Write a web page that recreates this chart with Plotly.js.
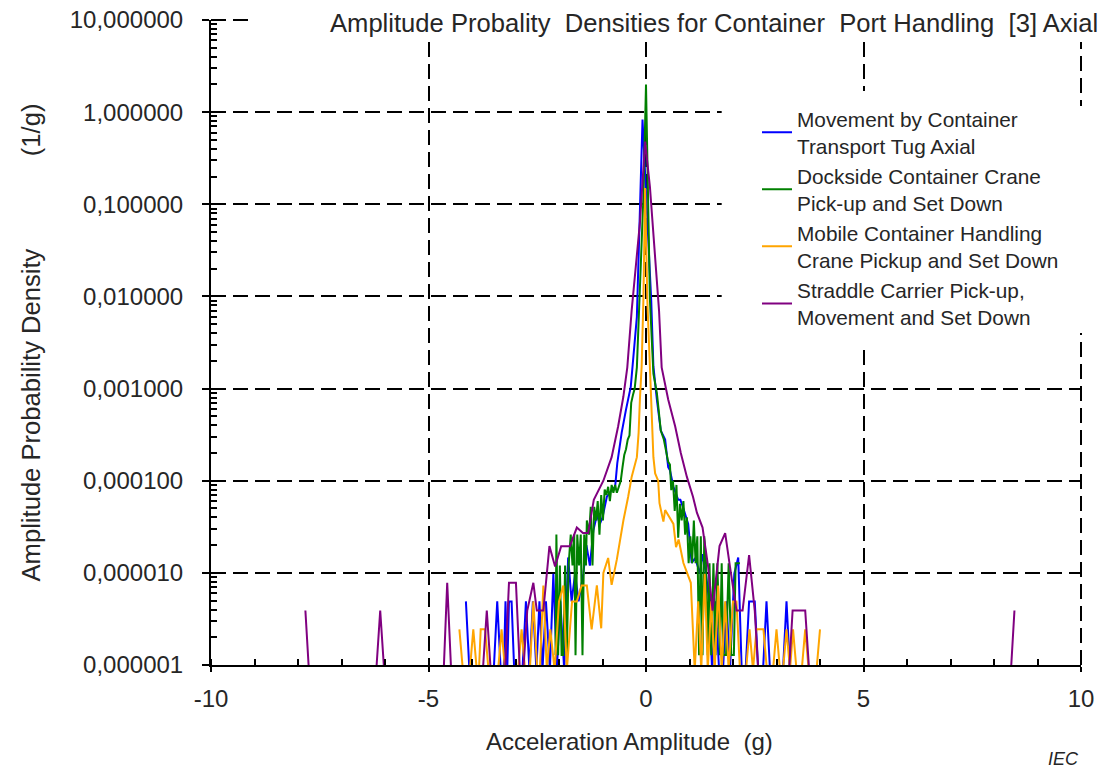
<!DOCTYPE html>
<html><head><meta charset="utf-8">
<script src="https://cdn.plot.ly/plotly-3.0.1.min.js"></script>
<style>html,body{margin:0;padding:0;background:#fff}#chart{width:1113px;height:773px}</style>
</head><body><div id="chart"></div>
<script>
// ---- data (acceleration amplitude in g, density in 1/g; 0 = empty bin) ----
const blueX = [-4.14,-4.06,-3.50,-3.42,-3.34,-3.27,-3.23,-3.19,-3.15,-3.09,-3.03,-2.84,-2.76,-2.68,-2.60,-2.52,-2.45,-2.38,-2.30,-2.21,-2.13,-2.05,-1.97,-1.88,-1.79,-1.71,-1.63,-1.55,-1.44,-1.37,-1.29,-1.21,-1.13,-1.06,-1.00,-0.90,-0.79,-0.71,-0.66,-0.56,-0.46,-0.35,-0.21,-0.08,0.12,0.17,0.25,0.34,0.44,0.51,0.55,0.63,0.74,0.79,0.86,0.97,1.05,1.13,1.24,1.30,1.38,1.45,1.52,1.60,1.68,1.77,1.85,1.93,2.03,2.12,2.20,2.29,2.37,2.45,2.50,2.58,2.69,2.77,2.85,3.15,3.23,3.31];
const blueY = [4.9e-6,0,0,4.9e-6,0,0,4.9e-6,0,4.9e-6,4.9e-6,0,0,4.9e-6,0,4.9e-6,0,4.9e-6,0,4.9e-6,0,9.8e-6,0,4.9e-6,0,1.47e-5,4.9e-6,9.8e-6,4.9e-6,9.8e-6,2.0e-5,1.2e-5,2.9e-5,4.2e-5,3.4e-5,4.0e-5,6.7e-5,7.9e-5,8.6e-5,1.55e-4,3.3e-4,5.9e-4,1.05e-3,6.0e-3,0.83,9.0e-3,1.74e-3,7.6e-4,3.5e-4,2.8e-4,1.4e-4,1.3e-4,8.6e-5,6.2e-5,6.2e-5,5.0e-5,3.4e-5,1.28e-5,1.45e-5,9.8e-6,1.6e-5,9.8e-6,4.9e-6,0,4.9e-6,0,0,4.9e-6,0,9.8e-6,1.47e-5,0,0,4.9e-6,4.9e-6,4.9e-6,0,0,4.9e-6,0,0,4.9e-6,0];

const greenX = [-2.08,-2.06,-2.02,-1.98,-1.94,-1.90,-1.86,-1.82,-1.78,-1.73,-1.69,-1.65,-1.62,-1.58,-1.54,-1.50,-1.46,-1.42,-1.38,-1.36,-1.31,-1.27,-1.23,-1.19,-1.15,-1.11,-1.07,-1.03,-0.99,-0.95,-0.91,-0.87,-0.83,-0.79,-0.75,-0.71,-0.67,-0.62,-0.58,-0.54,-0.50,-0.46,-0.42,-0.38,-0.34,-0.30,-0.26,-0.21,-0.15,-0.06,0.00,0.03,0.06,0.09,0.17,0.25,0.29,0.34,0.41,0.46,0.51,0.55,0.58,0.62,0.66,0.70,0.74,0.78,0.82,0.86,0.90,0.94,0.98,1.02,1.06,1.10,1.14,1.18,1.22,1.26,1.30,1.34,1.38,1.42,1.46,1.50,1.55,1.60,1.64,1.70,1.74,1.78,1.84,1.90,1.96,2.02,2.06,2.10,2.16];
const greenY = [1.28e-6,2.6e-5,1.28e-6,1.2e-5,1.28e-6,1.28e-6,1.2e-5,1.28e-6,1.2e-5,2.6e-5,1.2e-5,2.6e-5,1.28e-6,2.6e-5,1.2e-5,2.6e-5,1.28e-6,2.6e-5,1.2e-5,3.7e-5,2.6e-5,5.2e-5,1.2e-5,5.2e-5,3.7e-5,6.0e-5,2.6e-5,7.0e-5,3.7e-5,8.0e-5,7.0e-5,8.6e-5,6.0e-5,9.0e-5,7.4e-5,9.0e-5,7.4e-5,8.6e-5,1.0e-4,1.4e-4,1.9e-4,2.2e-4,2.8e-4,3.1e-4,7.0e-4,8.5e-4,1.0e-3,1.7e-3,9.2e-3,0.12,2.0,0.3,0.05,9.2e-3,1.45e-3,8.9e-4,5.9e-4,3.5e-4,2.8e-4,2.1e-4,1.6e-4,1.5e-4,7.9e-5,1.0e-4,4.7e-5,9.0e-5,2.4e-5,5.6e-5,3.7e-5,6.0e-5,2.6e-5,4.0e-5,1.27e-5,2.5e-5,1.27e-5,3.7e-5,1.27e-5,2.5e-5,1.28e-6,2.5e-5,1.28e-6,2.5e-5,1.27e-5,1.28e-6,1.27e-5,1.28e-6,1.27e-5,1.28e-6,1.27e-5,1.28e-6,1.27e-5,1.28e-6,1.28e-6,1.27e-5,1.28e-6,1.28e-6,1.27e-5,1.27e-5,1.27e-5];

const orangeX = [-4.29,-4.21,-4.05,-3.97,-3.89,-3.84,-3.80,-3.70,-3.62,-3.40,-3.32,-3.24,-2.94,-2.86,-2.78,-2.67,-2.59,-2.50,-2.44,-2.36,-2.28,-2.20,-2.10,-2.00,-1.90,-1.82,-1.70,-1.59,-1.48,-1.36,-1.25,-1.13,-1.03,-0.98,-0.87,-0.79,-0.67,-0.58,-0.52,-0.41,-0.33,-0.21,-0.17,-0.14,-0.10,-0.06,-0.02,0.03,0.09,0.13,0.17,0.21,0.28,0.31,0.40,0.44,0.53,0.63,0.69,0.75,0.86,0.94,1.03,1.12,1.20,1.27,1.35,1.42,1.50,1.58,1.66,1.74,1.82,1.90,2.00,2.08,2.16,2.30,2.38,2.46,2.54,2.62,2.70,2.78,2.92,3.00,3.08,3.15,3.23,3.31,3.38,3.46,3.58,3.66,3.74,3.92,4.00];
const orangeY = [2.44e-6,0,0,2.44e-6,0,0,2.44e-6,2.44e-6,0,0,2.44e-6,0,0,2.44e-6,0,0,4.9e-6,0,0,7.3e-6,0,2.44e-6,0,4.9e-6,7.3e-6,0,4.9e-6,4.9e-6,7.3e-6,7.3e-6,2.44e-6,7.3e-6,2.5e-6,1.0e-5,1.45e-5,7.4e-6,1.4e-5,2.5e-5,3.7e-5,6.7e-5,1.1e-4,1.8e-4,3.3e-4,7.6e-4,1.74e-3,9.2e-3,0.15,9.2e-3,1.74e-3,3.9e-4,1.8e-4,1.2e-4,1.0e-4,5.7e-5,3.6e-5,4.8e-5,4.0e-5,3.4e-5,1.9e-5,2.3e-5,1.28e-5,1.0e-5,7.8e-6,0,4.9e-6,0,9.8e-6,0,4.9e-6,0,7.3e-6,0,4.9e-6,0,4.9e-6,4.9e-6,0,0,2.44e-6,0,2.44e-6,2.44e-6,2.44e-6,0,0,2.44e-6,0,0,2.44e-6,0,2.44e-6,0,0,2.44e-6,0,0,2.44e-6];

const purpleX = [-7.83,-7.75,-6.20,-6.11,-6.02,-4.65,-4.57,-4.48,-3.75,-3.66,-3.57,-3.24,-3.15,-2.99,-2.90,-2.82,-2.73,-2.59,-2.51,-2.36,-2.22,-2.09,-1.95,-1.75,-1.59,-1.45,-1.33,-1.20,-0.98,-0.79,-0.64,-0.52,-0.43,-0.33,-0.14,-0.02,0.09,0.30,0.36,0.51,0.67,0.80,0.94,1.08,1.17,1.30,1.43,1.53,1.69,1.82,1.93,2.08,2.22,2.37,2.50,2.58,3.29,3.37,3.66,3.75,8.39,8.47];
const purpleY = [3.9e-6,0,0,3.9e-6,0,0,7.8e-6,0,0,3.9e-6,0,0,7.8e-6,7.8e-6,0,0,3.9e-6,7.8e-6,3.9e-6,3.9e-6,1.95e-5,1.17e-5,1.95e-5,1.95e-5,3.1e-5,2.7e-5,2.7e-5,6.2e-5,1.0e-4,1.8e-4,3.9e-4,8.2e-4,1.7e-3,7.0e-3,0.063,0.48,0.155,7.0e-3,1.7e-3,7.6e-4,3.9e-4,2.0e-4,1.1e-4,6.7e-5,4.5e-5,3.1e-5,1.15e-5,3.9e-6,1.95e-5,2.7e-5,1.17e-5,3.9e-6,3.9e-6,1.56e-5,3.9e-6,0,0,3.9e-6,3.9e-6,0,0,3.9e-6];

const seriesNames = ['Movement by Container<br>Transport Tug Axial','Dockside Container Crane<br>Pick-up and Set Down','Mobile Container Handling<br>Crane Pickup and Set Down','Straddle Carrier Pick-up,<br>Movement and Set Down'];
const yTickVals = [1e-6,1e-5,1e-4,1e-3,1e-2,1e-1,1,10];
const yTickText = ['0,000001','0,000010','0,000100','0,001000','0,010000','0,100000','1,000000','10,000000'];
const xTickVals = [-10,-5,0,5,10];
const xTickText = ['-10','-5','0','5','10'];

// empty bins are drawn just below the axis floor (log axis cannot show 0)
const ZERO_PLOT = 8.8e-7;
const toPlot = a => a.map(v => v === 0 ? ZERO_PLOT : v);

const colors = ['#0000FF','#008000','#FFA500','#800080'];
const xs = [blueX, greenX, orangeX, purpleX];
const ys = [blueY, greenY, orangeY, purpleY];
const traces = xs.map((x,i) => ({
  x: x, y: toPlot(ys[i]), type:'scatter', mode:'lines', name: seriesNames[i],
  line:{color:colors[i], width:2}, hoverinfo:'x+y+name'
}));

const minorY = [];
for (let d=-6; d<1; d++) for (let m=2; m<10; m++) minorY.push(m*Math.pow(10,d));

const txt = '#262626';
const nb = '\u00a0';
const dashGrid = {color:'#000', width:2, dash:'15px,7px'};
const layout = {
  width:1113, height:773,
  margin:{l:211, r:32, t:20, b:108},
  paper_bgcolor:'#fff', plot_bgcolor:'#fff',
  font:{family:'"Liberation Sans", Arial, sans-serif', size:24, color:txt},
  showlegend:true,
  legend:{x:0.6184, y:0.8905, xanchor:'left', yanchor:'top', bgcolor:'#fff',
          bordercolor:'#fff', borderwidth:8, font:{size:20.8, color:txt}, tracegroupgap:0},
  xaxis:{range:[-10,10], tickmode:'array', tickvals:xTickVals, ticktext:xTickText,
         showgrid:true, gridcolor:'#000', gridwidth:2, griddash:'15px,7px',
         zeroline:false, showline:true, linecolor:'#000', linewidth:2,
         ticks:'outside', ticklen:5, tickwidth:2, tickcolor:'#000', ticklabelstandoff:6,
         tickfont:{size:24, color:txt},
         minor:{tickmode:'linear', tick0:0, dtick:1, ticks:'inside', ticklen:6, tickwidth:2, tickcolor:'#000', showgrid:false},
         title:{text:'Acceleration Amplitude'+nb+' (g)'+nb+nb+nb+nb+nb+'\u200b', font:{size:24, color:txt}, standoff:22},
         fixedrange:true},
  yaxis:{type:'log', range:[-6,1], tickmode:'array', tickvals:yTickVals, ticktext:yTickText,
         showgrid:true, gridcolor:'#000', gridwidth:2, griddash:'15px,7px',
         zeroline:false, showline:true, linecolor:'#000', linewidth:2,
         ticks:'outside', ticklen:7, tickwidth:2, tickcolor:'#000', ticklabelstandoff:14,
         tickfont:{size:24, color:txt},
         minor:{tickmode:'array', tickvals:minorY, ticks:'inside', ticklen:6, tickwidth:2, tickcolor:'#000', showgrid:false},
         title:{text:'Amplitude Probability Density'+nb+nb+nb+nb+nb+nb+nb+nb+nb+nb+nb+nb+' (1/g)', font:{size:25.6, color:txt}, standoff:22},
         fixedrange:true},
  shapes:[
    // gridlines at the range ends (x = 10, y = 10), which Plotly does not draw itself
    {type:'line', xref:'paper', yref:'paper', x0:1, x1:1, y0:0, y1:1, line:dashGrid, layer:'below'},
    {type:'line', xref:'paper', yref:'paper', x0:0, x1:1, y0:1, y1:1, line:dashGrid, layer:'below'},
    // white boxes behind the title and the legend
    {type:'rect', xref:'paper', yref:'paper', x0:0.043, x1:1.05, y0:0.966, y1:1.04,
     fillcolor:'#fff', line:{width:0}, layer:'above'},
    {type:'rect', xref:'paper', yref:'paper', x0:0.587, x1:1.0126, y0:0.5147, y1:0.8667,
     fillcolor:'#fff', line:{width:0}, layer:'above'}
  ],
  annotations:[
    {xref:'paper', yref:'paper', x:1.0218, y:0.995, xanchor:'right', yanchor:'middle', showarrow:false,
     text:'Amplitude Probality'+nb+' Densities for Container'+nb+' Port Handling'+nb+' [3] Axial', font:{size:25.6, color:txt}},
    {xref:'paper', yref:'paper', x:1.0, y:-0.145, xanchor:'right', yanchor:'middle', showarrow:false,
     text:'<i>IEC</i>', font:{size:18, color:txt}}
  ]
};
Plotly.newPlot('chart', traces, layout, {displayModeBar:false, staticPlot:true});
</script></body></html>
